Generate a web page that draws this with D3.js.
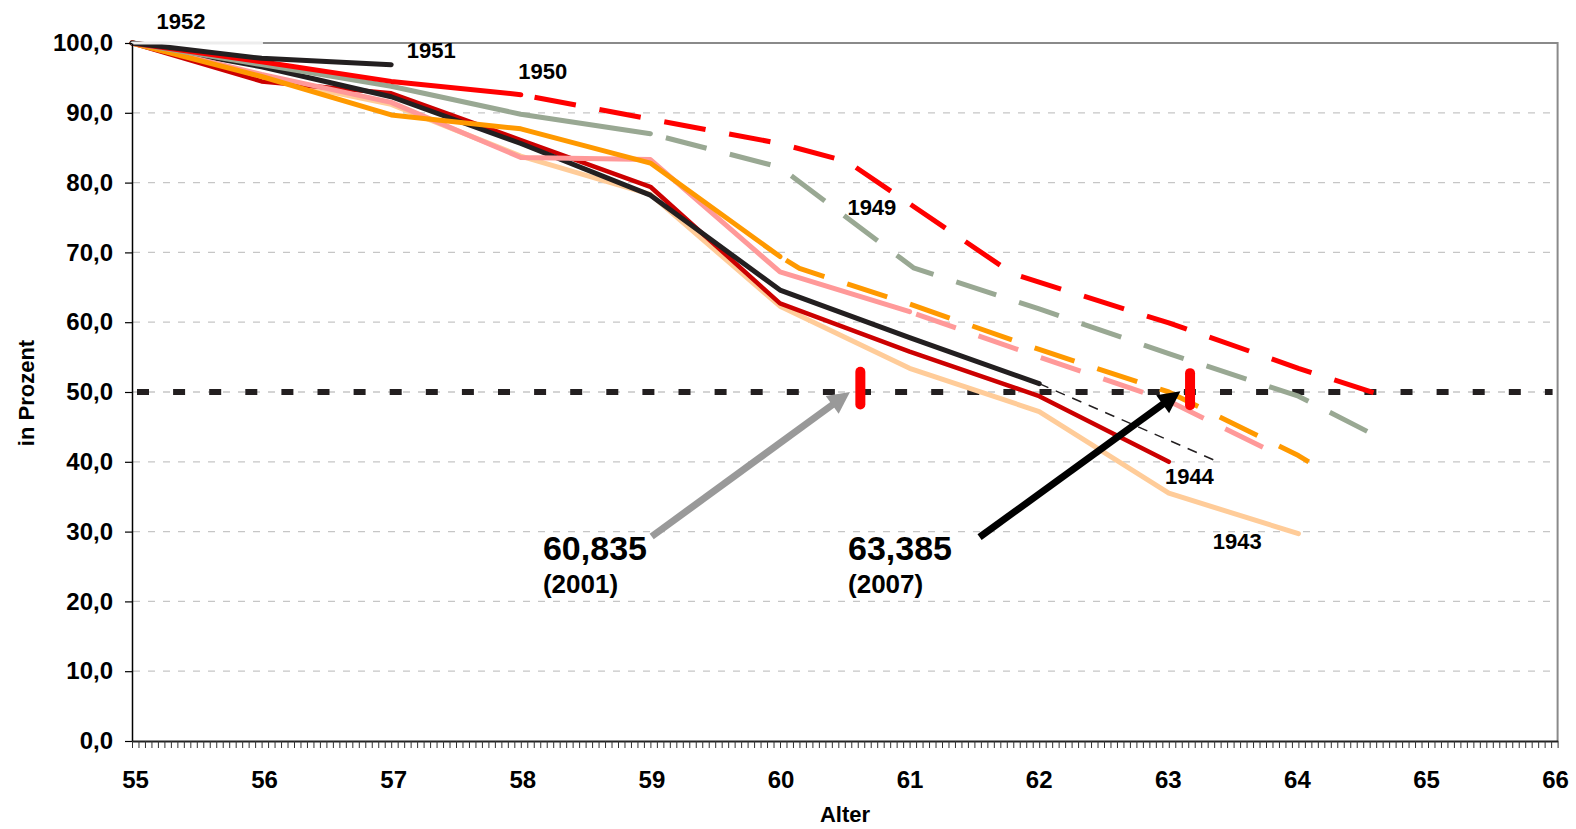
<!DOCTYPE html>
<html><head><meta charset="utf-8">
<script src="https://cdn.jsdelivr.net/npm/d3@7"></script>
<style>
html,body{margin:0;padding:0;background:#fff;}
svg text{font-family:"Liberation Sans",Arial,Helvetica,sans-serif;font-weight:bold;fill:#000;}
</style></head><body>
<svg id="chart" width="1576" height="829"></svg>
<script>
// ---------- data ----------
const xTickValues = [55,56,57,58,59,60,61,62,63,64,65,66];
const yTickValues = [0,10,20,30,40,50,60,70,80,90,100];
const yTickLabels = ["0,0","10,0","20,0","30,0","40,0","50,0","60,0","70,0","80,0","90,0","100,0"];
const xTitle = "Alter";
const yTitle = "in Prozent";
const threshold = 50;

// cohort 1943 (peach)
const ages1943 = [55,56,57,58,59,60,61,62,63,64];
const vals1943 = [100,95.0,91.2,83.8,78.3,62.3,53.4,47.2,35.5,29.7];
// cohort 1944 (dark red)
const ages1944 = [55,56,57,58,59,60,61,62,63];
const vals1944 = [100,94.5,92.8,86.1,79.4,62.7,55.8,49.4,40.0];
// cohort 1945 (black) + thin dashed trend
const ages1945 = [55,56,57,58,59,60,61,62];
const vals1945 = [100,96.6,92.3,85.6,78.2,64.6,57.8,51.2];
const trendAges1945 = [62,63.38];
const trendVals1945 = [51.2,40.0];
// cohort 1946 (pink)
const ages1946 = [55,56,57,58,59,60,61];
const vals1946 = [100,95.5,91.5,83.6,83.3,67.2,61.5];
const projAges1946 = [61,62,63,63.78];
const projVals1946 = [61.5,55.0,48.7,41.6];
// cohort 1947 (orange)
const ages1947 = [55,56,57,58,59,60];
const vals1947 = [100,95.2,89.7,87.7,82.8,69.4];
const projAges1947 = [60,60.15,61,62,63,64,64.08];
const projVals1947 = [69.4,67.7,62.6,56.1,50.0,40.9,40.0];
// cohort 1949 (grey-green)
const ages1949 = [55,56,57,58,59];
const vals1949 = [100,96.9,93.8,89.8,87.0];
const projAges1949 = [59,60,61.03,62,63,64,64.59];
const projVals1949 = [87.0,82.2,67.8,61.9,55.5,49.4,43.8];
// cohort 1950 (red)
const ages1950 = [55,56,57,58];
const vals1950 = [100,97.3,94.5,92.6];
const projAges1950 = [58,59,60,60.52,61.8,63,64,64.58];
const projVals1950 = [92.6,89.1,85.6,83.0,66.9,59.9,53.4,49.9];
// cohort 1951 (black)
const ages1951 = [55,56,57];
const vals1951 = [100,97.8,96.9];
// cohort 1952 (light)
const ages1952 = [55,56];
const vals1952 = [100,100];

// annotations
const markerAges = [60.62, 63.164];
const markerLo = [48.2, 48.1];
const markerHi = [52.9, 52.7];
const arrowFrom = [[59.01,29.3],[61.54,29.2]];
const arrowTo = [[60.54,50.0],[63.09,50.1]];
const bigLabels = ["60,835","63,385"];
const bigSubLabels = ["(2001)","(2007)"];
const bigLabelPos = [[58.171,25.93],[60.525,26.0]];
const bigSubPos = [[58.171,21.2],[60.525,21.2]];
const cohortLabels = ["1952","1951","1950","1949","1944","1943"];
const cohortLabelPos = [[55.19,101.96],[57.12,97.8],[57.98,94.84],[60.52,75.36],[62.97,36.82],[63.34,27.5]];

// ---------- chart ----------
const svg = d3.select('#chart');
const x = d3.scaleLinear().domain([55,66]).range([132,1557.6]);
const y = d3.scaleLinear().domain([0,100]).range([741,43]);
const zip = (a,v) => a.map((d,i)=>[d,v[i]]);
const line = d3.line().x(d=>x(d[0])).y(d=>y(d[1]));

// gridlines
svg.append('g').selectAll('line')
  .data(yTickValues.filter(v=>v>0 && v<100)).join('line')
  .attr('x1', x(55)+1).attr('x2', x(66)-4)
  .attr('y1', d=>y(d)).attr('y2', d=>y(d))
  .attr('stroke','#c6c6c6').attr('stroke-width',1.3).attr('stroke-dasharray','7 8');

// plot border (top/right)
svg.append('path')
  .attr('d', `M${x(55)},${y(100)}H${x(66)}V${y(0)}`)
  .attr('fill','none').attr('stroke','#8a8a8a').attr('stroke-width',2);

// 50% threshold line
svg.append('line')
  .attr('x1', x(55)+5).attr('x2', x(66)-5)
  .attr('y1', y(threshold)).attr('y2', y(threshold))
  .attr('stroke','#231F20').attr('stroke-width',6).attr('stroke-dasharray','12 24.1');

// series
const series = [
  {color:'#FFCC99', solid:zip(ages1943,vals1943)},
  {color:'#CC0000', solid:zip(ages1944,vals1944), w:4.5},
  {color:'#231F20', solid:zip(ages1945,vals1945), trend:zip(trendAges1945,trendVals1945)},
  {color:'#FF9999', solid:zip(ages1946,vals1946), proj:zip(projAges1946,projVals1946), off:59},
  {color:'#FF9900', solid:zip(ages1947,vals1947), proj:zip(projAges1947,projVals1947), off:59},
  {color:'#99A893', solid:zip(ages1949,vals1949), proj:zip(projAges1949,projVals1949), off:50},
  {color:'#FF0000', solid:zip(ages1950,vals1950), proj:zip(projAges1950,projVals1950), off:52},
  {color:'#231F20', solid:zip(ages1951,vals1951)},
  {color:'#EDEDED', solid:zip(ages1952,vals1952), w:3}
];
const gS = svg.append('g');
series.forEach(s => {
  if (s.trend) {
    gS.append('path').attr('d', line(s.trend)).attr('fill','none')
      .attr('stroke','#231F20').attr('stroke-width',1.5).attr('stroke-dasharray','10 8');
  }
  if (s.proj) {
    gS.append('path').attr('d', line(s.proj)).attr('fill','none')
      .attr('stroke', s.color).attr('stroke-width',5)
      .attr('stroke-dasharray','42 24').attr('stroke-dashoffset',s.off)
      .attr('stroke-linejoin','round');
  }
  gS.append('path').attr('d', line(s.solid)).attr('fill','none')
    .attr('stroke', s.color).attr('stroke-width', s.w || 5)
    .attr('stroke-linejoin','round').attr('stroke-linecap','round');
});

// axes
const yAxis = d3.axisLeft(y).tickValues(yTickValues)
  .tickFormat((d,i)=>yTickLabels[i]).tickSize(7).tickSizeOuter(0).tickPadding(12);
const gy = svg.append('g').attr('transform',`translate(${x(55)},0)`).call(yAxis);
gy.attr('font-size',24).attr('font-family',null);
gy.select('.domain').attr('stroke','#000').attr('stroke-width',1.5);
gy.selectAll('.tick line').attr('stroke','#000').attr('stroke-width',1.2);

const minorTicks = d3.range(0,221).map(i => 55 + i*0.05);
const xMinor = d3.axisBottom(x).tickValues(minorTicks).tickFormat('').tickSize(7).tickSizeOuter(0);
const gx = svg.append('g').attr('transform',`translate(0,${y(0)})`).call(xMinor);
gx.select('.domain').attr('stroke','#222').attr('stroke-width',2);
gx.selectAll('.tick line').attr('stroke','#333').attr('stroke-width',1);
gx.selectAll('.tick text').remove();

const xLab = d3.axisBottom(x).tickValues(xTickValues).tickSize(0).tickSizeOuter(0).tickFormat(d=>String(d));
const gxl = svg.append('g').attr('transform',`translate(0,${y(0)})`).call(xLab);
gxl.select('.domain').remove();
gxl.attr('font-size',24).attr('font-family',null);
gxl.selectAll('.tick text').attr('y',29.5).attr('dy','0.71em').attr('dx',(d)=> 3 - (d-55)*0.5);

// axis titles
svg.append('text').attr('transform',`translate(34,${(y(0)+y(100))/2 + 1}) rotate(-90)`)
  .attr('text-anchor','middle').attr('font-size',22).text(yTitle);
svg.append('text').attr('x',845).attr('y',822)
  .attr('text-anchor','middle').attr('font-size',22).text(xTitle);

// red markers
svg.append('g').selectAll('line').data(markerAges).join('line')
  .attr('x1', d=>x(d)).attr('x2', d=>x(d))
  .attr('y1', (d,i)=>y(markerHi[i])).attr('y2', (d,i)=>y(markerLo[i]))
  .attr('stroke','#FF0000').attr('stroke-width',10).attr('stroke-linecap','round');

// arrows
const arrowColors = ['#999999','#000000'];
arrowFrom.forEach((f,i) => {
  const x1 = x(f[0]), y1 = y(f[1]), x2 = x(arrowTo[i][0]), y2 = y(arrowTo[i][1]);
  const dx = x2-x1, dy = y2-y1, len = Math.hypot(dx,dy);
  const ux = dx/len, uy = dy/len, nx = -uy, ny = ux;
  const L = 22, H = 11;
  const bx = x2 - ux*L, by = y2 - uy*L;
  svg.append('line').attr('x1',x1).attr('y1',y1).attr('x2',bx+ux*2).attr('y2',by+uy*2)
    .attr('stroke',arrowColors[i]).attr('stroke-width',7);
  svg.append('path')
    .attr('d',`M${x2},${y2}L${bx+nx*H},${by+ny*H}L${bx-nx*H},${by-ny*H}Z`)
    .attr('fill',arrowColors[i]);
});

// big annotation labels
bigLabels.forEach((t,i)=>{
  svg.append('text').attr('x',x(bigLabelPos[i][0])).attr('y',y(bigLabelPos[i][1]))
    .attr('font-size',34).text(t);
  svg.append('text').attr('x',x(bigSubPos[i][0])).attr('y',y(bigSubPos[i][1]))
    .attr('font-size',26).text(bigSubLabels[i]);
});

// cohort labels
svg.append('g').selectAll('text').data(cohortLabels).join('text')
  .attr('x',(d,i)=>x(cohortLabelPos[i][0])).attr('y',(d,i)=>y(cohortLabelPos[i][1]))
  .attr('font-size',22).text(d=>d);
</script>
</body></html>
